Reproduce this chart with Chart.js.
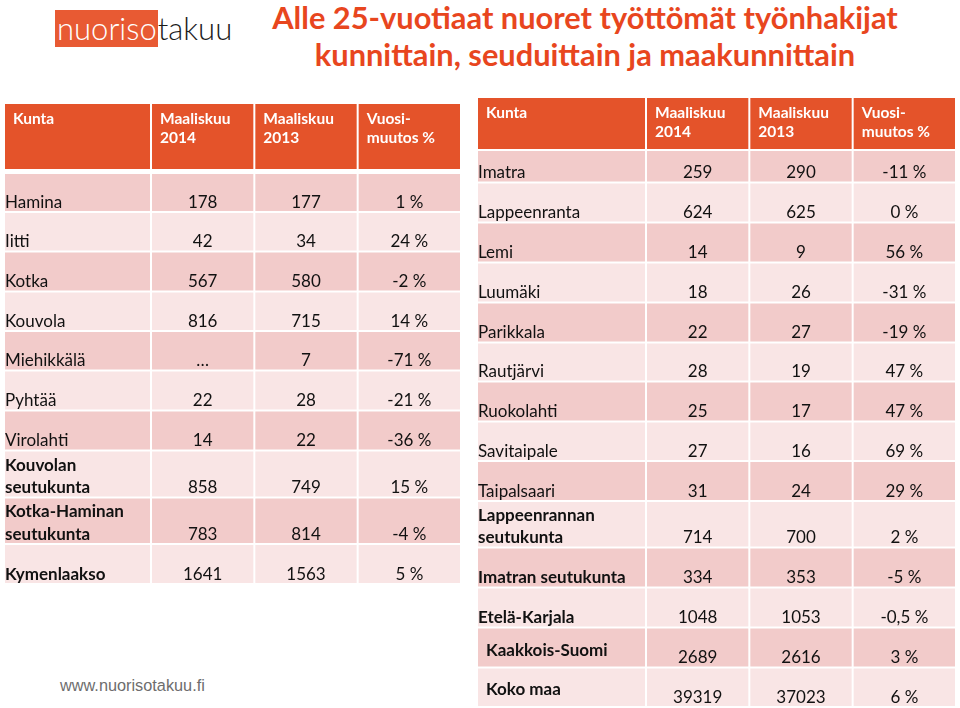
<!DOCTYPE html>
<html>
<head>
<meta charset="utf-8">
<script src="https://cdn.jsdelivr.net/npm/chart.js@4.4.1/dist/chart.umd.min.js"></script>
<style>
  body { margin: 0; width: 960px; height: 708px; background: #fff; position: relative; overflow: hidden; font-family: Lato, "Open Sans", sans-serif; }
  canvas { position: absolute; }
  #logo { position: absolute; left: 55px; top: 10px; font-size: 31px; font-weight: 300; line-height: 37px; white-space: nowrap; }
  #logo .nuoriso { background: #E85A33; color: #fff; padding: 0 1px 0 2px; display: inline-block; }
  #logo .takuu { color: #1b1b1b; }
  #title { position: absolute; left: 200px; width: 770px; top: -1px; text-align: center; color: #E8461E; font-weight: bold; font-size: 30.8px; line-height: 37px; }
  #footer { position: absolute; left: 60px; top: 676px; font-family: "Liberation Sans", Arial, sans-serif; font-size: 16.3px; color: #6d6d6d; }
</style>
</head>
<body>
<div id="logo"><span class="nuoriso">nuoriso</span><span class="takuu">takuu</span></div>
<div id="title">Alle 25-vuotiaat nuoret työttömät työnhakijat<br>kunnittain, seuduittain ja maakunnittain</div>
<canvas id="kymiNames" width="147" height="481" style="left:4px;top:103px"></canvas>
<canvas id="kymiNumbers" width="310" height="481" style="left:151px;top:103px"></canvas>
<canvas id="karjalaNames" width="169" height="610" style="left:477px;top:97px"></canvas>
<canvas id="karjalaNumbers" width="310" height="610" style="left:646px;top:97px"></canvas>
<div id="footer">www.nuorisotakuu.fi</div>

<script>
// Column headers
const nameHeader = ['Kunta'];
const numberHeaders = ['Maaliskuu\n2014', 'Maaliskuu\n2013', 'Vuosi-\nmuutos %'];

// Kymenlaakso (left table)
const kymiNames = ['Hamina', 'Iitti', 'Kotka', 'Kouvola', 'Miehikkälä', 'Pyhtää', 'Virolahti',
    'Kouvolan\nseutukunta', 'Kotka-Haminan\nseutukunta', 'Kymenlaakso'];
const kymi2014 = [178, 42, 567, 816, null, 22, 14, 858, 783, 1641];
const kymi2013 = [177, 34, 580, 715, 7, 28, 22, 749, 814, 1563];
const kymiChange = [1, 24, -2, 14, -71, -21, -36, 15, -4, 5];

// Etelä-Karjala (right table)
const karjalaNames = ['Imatra', 'Lappeenranta', 'Lemi', 'Luumäki', 'Parikkala', 'Rautjärvi', 'Ruokolahti',
    'Savitaipale', 'Taipalsaari', 'Lappeenrannan\nseutukunta', 'Imatran seutukunta', 'Etelä-Karjala',
    'Kaakkois-Suomi', 'Koko maa'];
const karjala2014 = [259, 624, 14, 18, 22, 28, 25, 27, 31, 714, 334, 1048, 2689, 39319];
const karjala2013 = [290, 625, 9, 26, 27, 19, 17, 16, 24, 700, 353, 1053, 2616, 37023];
const karjalaChange = [-11, 0, 56, -31, -19, 47, 47, 69, 29, 2, -5, -0.5, 3, 6];

// Layout: row heights (px) and label styles
const kymiLayout = {
    headerHeight: 67, headerGap: 3,
    rowHeights: [39, 39.5, 40, 39.5, 39.5, 40, 40, 47, 46.5, 40],
    labelStyle: ['', '', '', '', '', '', '', 'bold', 'bold', 'bold']
};
const karjalaLayout = {
    headerHeight: 53, headerGap: 0,
    rowHeights: [32.5, 40, 40, 40, 40, 39, 40, 39.5, 40, 46.5, 40, 40, 40, 39.5],
    labelStyle: ['', '', '', '', '', '', '', '', '', 'bold', 'bold', 'bold', 'raised', 'raised']
};

const COLORS = { header: '#E4532A', dark: '#F2CBCA', light: '#F9E5E5', text: '#111111' };
const FONT = 'Lato, "Open Sans", sans-serif';

// Number formatting (Finnish decimal comma)
function formatCount(v) {
    return v === null ? '…' : String(v);
}
function formatChange(v) {
    return String(v).replace('.', ',') + ' %';
}

// Draws the text of every cell on top of its bar
const cellTextPlugin = {
    id: 'cellText',
    afterDatasetsDraw(chart) {
        const ctx = chart.ctx;
        chart.data.datasets.forEach((ds, di) => {
            if (!ds.cellText) return;
            const meta = chart.getDatasetMeta(di);
            meta.data.forEach((bar, ci) => {
                const text = ds.cellText[ci];
                if (text === undefined || text === '') return;
                const { x, y, base, width } = bar.getProps(['x', 'y', 'base', 'width'], true);
                const top = Math.min(y, base);
                const bottom = Math.max(y, base);
                const left = x - width / 2;
                const lines = String(text).split('\n');

                ctx.save();
                ctx.textBaseline = 'alphabetic';
                if (ds.kind === 'header') {
                    ctx.font = 'bold 15.5px ' + FONT;
                    ctx.fillStyle = '#ffffff';
                    ctx.textAlign = 'left';
                    lines.forEach((line, li) => {
                        ctx.fillText(line, left + 9, top + 21 + li * 19);
                    });
                } else {
                    const isLabel = chart.options.plugins.cellText.labels;
                    const style = ds.style || '';
                    ctx.font = (isLabel && style ? 'bold ' : '') + '17px ' + FONT;
                    ctx.fillStyle = COLORS.text;
                    ctx.textAlign = isLabel ? 'left' : 'center';
                    const raised = isLabel && style === 'raised';
                    const tx = isLabel ? left + (raised ? 9 : 1) : x;
                    const bottomPad = raised ? 12 : 4.5;
                    lines.forEach((line, li) => {
                        ctx.fillText(line, tx, bottom - bottomPad - (lines.length - 1 - li) * 22.5);
                    });
                }
                ctx.restore();
            });
        });
    }
};

// Builds one stacked-bar "table" chart: every row is a dataset, every column a category
function buildTable(canvasId, headers, rows, layout, labels) {
    const datasets = [];
    datasets.push({
        kind: 'header',
        data: headers.map(() => layout.headerHeight),
        cellText: headers,
        backgroundColor: COLORS.header
    });
    if (layout.headerGap > 0) {
        datasets.push({
            kind: 'gap',
            data: headers.map(() => layout.headerGap),
            backgroundColor: 'rgba(0,0,0,0)',
            borderWidth: 0
        });
    }
    rows.forEach((cells, i) => {
        datasets.push({
            kind: 'row',
            style: layout.labelStyle[i],
            data: headers.map(() => layout.rowHeights[i]),
            cellText: cells,
            backgroundColor: i % 2 === 0 ? COLORS.dark : COLORS.light
        });
    });
    const total = datasets.reduce((sum, ds) => sum + ds.data[0], 0);

    return new Chart(document.getElementById(canvasId), {
        type: 'bar',
        data: { labels: headers, datasets: datasets },
        options: {
            responsive: false,
            animation: false,
            events: [],
            layout: { padding: 0 },
            datasets: {
                bar: {
                    stack: 'table',
                    barPercentage: 1,
                    categoryPercentage: 1,
                    borderWidth: 1,
                    borderColor: '#ffffff',
                    borderSkipped: false,
                    inflateAmount: 0
                }
            },
            scales: {
                x: { display: false, stacked: true },
                y: { display: false, stacked: true, reverse: true, min: 0, max: total }
            },
            plugins: {
                legend: { display: false },
                tooltip: { enabled: false },
                cellText: { labels: labels }
            }
        },
        plugins: [cellTextPlugin]
    });
}

function initializeTables() {
    buildTable('kymiNames', nameHeader, kymiNames.map(n => [n]), kymiLayout, true);
    buildTable('kymiNumbers', numberHeaders,
        kymiNames.map((n, i) => [formatCount(kymi2014[i]), formatCount(kymi2013[i]), formatChange(kymiChange[i])]),
        kymiLayout, false);
    buildTable('karjalaNames', nameHeader, karjalaNames.map(n => [n]), karjalaLayout, true);
    buildTable('karjalaNumbers', numberHeaders,
        karjalaNames.map((n, i) => [formatCount(karjala2014[i]), formatCount(karjala2013[i]), formatChange(karjalaChange[i])]),
        karjalaLayout, false);
}

if (document.fonts && document.fonts.load) {
    Promise.all([
        document.fonts.load('17px Lato'),
        document.fonts.load('bold 17px Lato')
    ]).then(initializeTables, initializeTables);
} else {
    initializeTables();
}
</script>
</body>
</html>
